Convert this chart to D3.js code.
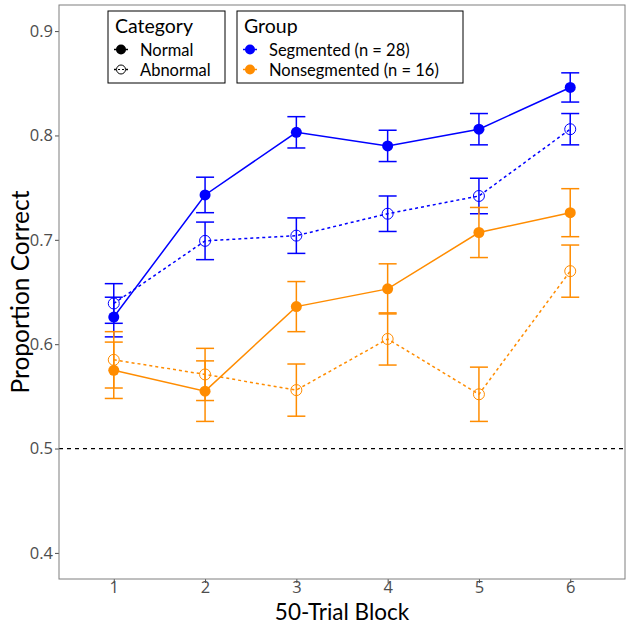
<!DOCTYPE html>
<html><head><meta charset="utf-8">
<script src="https://cdn.jsdelivr.net/npm/d3@7"></script>
<style>body{margin:0;background:#fff;} svg{display:block;}</style>
</head><body>
<svg id="c" width="630" height="625"></svg>
<script>
const blocks = [1, 2, 3, 4, 5, 6];
const yTicks = [0.4, 0.5, 0.6, 0.7, 0.8, 0.9];
const segNormal = [0.626, 0.743, 0.803, 0.790, 0.806, 0.846];
const segNormalSE = [0.019, 0.017, 0.015, 0.015, 0.015, 0.014];
const segAbnormal = [0.639, 0.699, 0.704, 0.725, 0.742, 0.806];
const segAbnormalSE = [0.019, 0.018, 0.017, 0.017, 0.017, 0.015];
const nonNormal = [0.575, 0.555, 0.636, 0.653, 0.707, 0.726];
const nonNormalSE = [0.027, 0.029, 0.024, 0.024, 0.024, 0.023];
const nonAbnormal = [0.585, 0.571, 0.556, 0.605, 0.552, 0.670];
const nonAbnormalSE = [0.027, 0.025, 0.025, 0.025, 0.026, 0.025];
const chance = 0.5;
const groups = ["Segmented (n = 28)", "Nonsegmented (n = 16)"];
const categories = ["Normal", "Abnormal"];
const colors = {"Segmented (n = 28)": "#0000ff", "Nonsegmented (n = 16)": "#ff8c00"};

const series = [
  {group: groups[0], cat: "Normal", vals: segNormal, se: segNormalSE},
  {group: groups[0], cat: "Abnormal", vals: segAbnormal, se: segAbnormalSE},
  {group: groups[1], cat: "Normal", vals: nonNormal, se: nonNormalSE},
  {group: groups[1], cat: "Abnormal", vals: nonAbnormal, se: nonAbnormalSE}
];

const svg = d3.select("#c");
const L = 59, R = 625, T = 5, B = 579;
const x = d3.scaleLinear().domain([0.4, 6.6]).range([L, R]);
const y = d3.scaleLinear().domain([0.375, 0.925]).range([B, T]);
const tickFont = "'Open Sans', sans-serif";
const titleFont = "Lato, 'Open Sans', sans-serif";

// chance line
svg.append("line").attr("x1", L).attr("x2", R).attr("y1", y(chance)).attr("y2", y(chance))
  .attr("stroke", "#000").attr("stroke-width", 1.2).attr("stroke-dasharray", "4,4");

// axes
const xAxis = svg.append("g").attr("transform", `translate(0,${B})`)
  .call(d3.axisBottom(x).tickValues(blocks).tickFormat(d3.format("d")).tickSize(4).tickSizeOuter(0));
const yAxis = svg.append("g").attr("transform", `translate(${L},0)`)
  .call(d3.axisLeft(y).tickValues(yTicks).tickFormat(d3.format(".1f")).tickSize(4).tickSizeOuter(0));
[xAxis, yAxis].forEach(a => {
  a.select(".domain").remove();
  a.selectAll(".tick line").attr("stroke", "#4d4d4d").attr("stroke-width", 1);
  a.selectAll(".tick text").attr("fill", "#4d4d4d").style("font-family", tickFont).style("font-size", "16.5px");
});
xAxis.selectAll(".tick text").attr("dy", "0.71em").attr("y", 2);
yAxis.selectAll(".tick text").attr("x", -6);

// panel border
svg.append("rect").attr("x", L).attr("y", T).attr("width", R - L).attr("height", B - T)
  .attr("fill", "none").attr("stroke", "#7f7f7f").attr("stroke-width", 1);

// series
const line = d3.line().x((d, i) => x(blocks[i])).y(d => y(d));
series.forEach(s => {
  const col = colors[s.group];
  const g = svg.append("g");
  g.append("path").datum(s.vals).attr("d", line).attr("fill", "none").attr("stroke", col)
    .attr("stroke-width", 1.5).attr("stroke-dasharray", s.cat === "Abnormal" ? "3,3" : null);
  s.vals.forEach((v, i) => {
    const cx = x(blocks[i]);
    const lo = y(v - s.se[i]), hi = y(v + s.se[i]);
    g.append("line").attr("x1", cx).attr("x2", cx).attr("y1", lo).attr("y2", hi).attr("stroke", col).attr("stroke-width", 1.5);
    [lo, hi].forEach(yy => g.append("line").attr("x1", cx - 9).attr("x2", cx + 9).attr("y1", yy).attr("y2", yy)
      .attr("stroke", col).attr("stroke-width", 1.5));
    if (s.cat === "Normal") {
      g.append("circle").attr("cx", cx).attr("cy", y(v)).attr("r", 5.5).attr("fill", col);
    } else {
      g.append("circle").attr("cx", cx).attr("cy", y(v)).attr("r", 5.5).attr("fill", "none")
        .attr("stroke", col).attr("stroke-width", 1);
    }
  });
});

// axis titles
svg.append("text").attr("x", (L + R) / 2).attr("y", 620).attr("text-anchor", "middle")
  .style("font-family", titleFont).style("font-size", "22.5px").attr("fill", "#000").text("50-Trial Block");
svg.append("text").attr("transform", `translate(29,${(T + B) / 2}) rotate(-90)`).attr("text-anchor", "middle")
  .style("font-family", titleFont).style("font-size", "24.5px").attr("fill", "#000").text("Proportion Correct");

// legends
function legend(x0, y0, w, h, title, items) {
  const g = svg.append("g");
  g.append("rect").attr("x", x0).attr("y", y0).attr("width", w).attr("height", h)
    .attr("fill", "#fff").attr("stroke", "#000").attr("stroke-width", 1);
  g.append("text").attr("x", x0 + 7).attr("y", y0 + 22).style("font-family", titleFont)
    .style("font-size", "19.5px").text(title);
  items.forEach((it, i) => {
    const cy = y0 + 38.5 + i * 20;
    const kx = x0 + 13;
    g.append("line").attr("x1", kx - 7).attr("x2", kx + 7).attr("y1", cy).attr("y2", cy)
      .attr("stroke", it.color).attr("stroke-width", 1.5).attr("stroke-dasharray", it.dash ? "2,2" : null);
    g.append("circle").attr("cx", kx).attr("cy", cy).attr("r", it.open ? 4.5 : 5)
      .attr("fill", it.open ? "#fff" : it.color).attr("stroke", it.open ? it.color : "none").attr("stroke-width", 1);
    if (it.open) g.append("line").attr("x1", kx - 7).attr("x2", kx + 7).attr("y1", cy).attr("y2", cy)
      .attr("stroke", it.color).attr("stroke-width", 1).attr("stroke-dasharray", "2,2");
    g.append("text").attr("x", x0 + 32).attr("y", cy + 6).style("font-family", titleFont)
      .style("font-size", "16.5px").text(it.label);
  });
}
legend(108, 11, 117, 72, "Category", [
  {label: categories[0], color: "#000", open: false, dash: false},
  {label: categories[1], color: "#000", open: true, dash: true}
]);
legend(237, 11, 226, 72, "Group", groups.map(gname => ({label: gname, color: colors[gname], open: false, dash: false})));
</script>
</body></html>
